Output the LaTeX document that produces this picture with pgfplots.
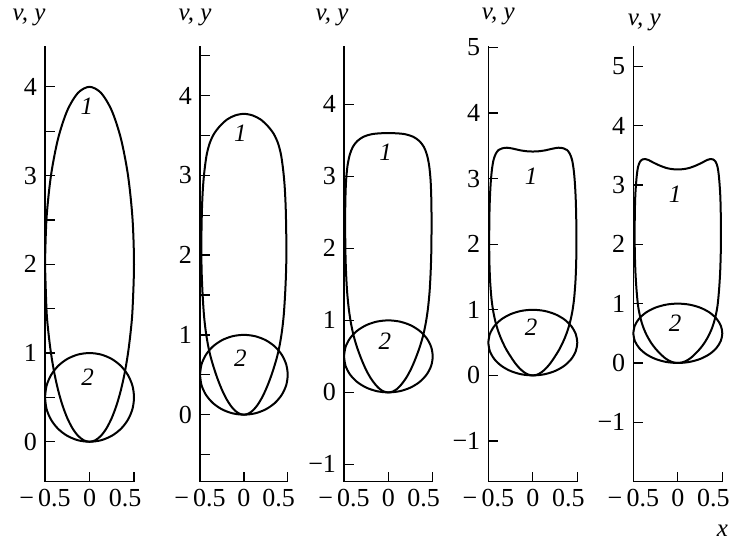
\documentclass[border=0pt]{standalone}
\usepackage{fontspec}
\setmainfont{Liberation Serif}
\usepackage{pgfplots}
\usepackage{pgfplotstable}
\pgfplotsset{compat=1.18}

% curve 2: y(x), the same closed loop in every panel
\pgfplotstableread{
x y
-0.5 0.5
-0.4830 0.3706
-0.4330 0.25
-0.3536 0.1464
-0.25 0.0670
-0.1294 0.0170
0 0
0.1294 0.0170
0.25 0.0670
0.3536 0.1464
0.4330 0.25
0.4830 0.3706
0.5 0.5
0.4830 0.6294
0.4330 0.75
0.3536 0.8536
0.25 0.9330
0.1294 0.9830
0 1
-0.1294 0.9830
-0.25 0.9330
-0.3536 0.8536
-0.4330 0.75
-0.4830 0.6294
-0.5 0.5
}\loopY

% curve 1: v(x), one closed loop per panel
\pgfplotstableread{
x y
-0.5 2.0
-0.4830 1.4824
-0.4619 1.2346
-0.4330 1.0
-0.3967 0.7824
-0.3536 0.5858
-0.3044 0.4132
-0.25 0.2679
-0.1913 0.1522
-0.1294 0.0681
-0.0653 0.0171
0 0
0.0653 0.0171
0.1294 0.0681
0.1913 0.1522
0.25 0.2679
0.3044 0.4132
0.3536 0.5858
0.3967 0.7824
0.4330 1.0
0.4619 1.2346
0.4830 1.4824
0.5 2.0
0.4830 2.5176
0.4330 3.0
0.3536 3.4142
0.25 3.7321
0.1294 3.9319
0 4
-0.1294 3.9319
-0.25 3.7321
-0.3536 3.4142
-0.4330 3.0
-0.4830 2.5176
-0.5 2.0
}\loopA

\pgfplotstableread{
x y
-0.485 2.0
-0.48 1.75
-0.47 1.5
-0.455 1.25
-0.435 1.05
-0.41 0.88
-0.38 0.73
-0.34 0.58
-0.30 0.45
-0.25 0.3125
-0.20 0.2
-0.15 0.1125
-0.10 0.05
-0.05 0.0125
0 0
0.05 0.0125
0.10 0.05
0.15 0.1125
0.20 0.2
0.25 0.3125
0.30 0.45
0.34 0.58
0.38 0.73
0.41 0.88
0.435 1.05
0.455 1.25
0.47 1.5
0.48 1.75
0.485 2.0
0.483 2.3
0.477 2.6
0.466 2.85
0.450 3.05
0.425 3.25
0.39 3.40
0.34 3.52
0.27 3.62
0.19 3.70
0.10 3.75
0 3.77
-0.10 3.75
-0.19 3.70
-0.27 3.62
-0.34 3.52
-0.39 3.40
-0.425 3.25
-0.450 3.05
-0.466 2.85
-0.477 2.6
-0.483 2.3
-0.485 2.0
}\loopB

\pgfplotstableread{
x y
-0.485 2.0
-0.478 1.7
-0.465 1.4
-0.445 1.15
-0.42 0.95
-0.39 0.78
-0.35 0.615
-0.30 0.45
-0.25 0.31
-0.20 0.2
-0.15 0.115
-0.10 0.05
-0.05 0.0125
0 0
0.05 0.0125
0.10 0.05
0.15 0.115
0.20 0.2
0.25 0.31
0.30 0.45
0.35 0.615
0.39 0.78
0.42 0.95
0.445 1.15
0.465 1.4
0.478 1.7
0.485 2.0
0.487 2.4
0.484 2.7
0.476 2.95
0.46 3.15
0.435 3.30
0.40 3.41
0.35 3.49
0.28 3.55
0.19 3.585
0.09 3.598
0 3.6
-0.09 3.598
-0.19 3.585
-0.28 3.55
-0.35 3.49
-0.40 3.41
-0.435 3.30
-0.46 3.15
-0.476 2.95
-0.484 2.7
-0.487 2.4
-0.485 2.0
}\loopC

\pgfplotstableread{
x y
-0.49 2.05
-0.488 1.75
-0.48 1.45
-0.465 1.18
-0.445 0.98
-0.42 0.82
-0.39 0.68
-0.35 0.54
-0.30 0.40
-0.25 0.29
-0.20 0.19
-0.15 0.11
-0.10 0.05
-0.05 0.012
0 0
0.05 0.012
0.10 0.05
0.15 0.11
0.20 0.19
0.25 0.29
0.30 0.40
0.35 0.54
0.39 0.68
0.42 0.82
0.445 0.98
0.465 1.18
0.48 1.45
0.488 1.75
0.49 2.05
0.488 2.4
0.482 2.7
0.472 2.95
0.458 3.15
0.44 3.29
0.415 3.38
0.385 3.435
0.345 3.46
0.29 3.47
0.22 3.455
0.14 3.43
0.06 3.415
0 3.412
-0.06 3.415
-0.14 3.43
-0.22 3.455
-0.29 3.47
-0.345 3.46
-0.385 3.435
-0.415 3.38
-0.44 3.29
-0.458 3.15
-0.472 2.95
-0.482 2.7
-0.488 2.4
-0.49 2.05
}\loopD

\pgfplotstableread{
x y
-0.485 2.1
-0.482 1.8
-0.475 1.5
-0.462 1.2
-0.445 0.95
-0.42 0.76
-0.39 0.61
-0.35 0.47
-0.30 0.34
-0.25 0.24
-0.20 0.16
-0.15 0.09
-0.10 0.04
-0.05 0.01
0 0
0.05 0.01
0.10 0.04
0.15 0.09
0.20 0.16
0.25 0.24
0.30 0.34
0.35 0.47
0.39 0.61
0.42 0.76
0.445 0.95
0.462 1.2
0.475 1.5
0.482 1.8
0.485 2.1
0.483 2.5
0.478 2.8
0.47 3.0
0.46 3.17
0.447 3.3
0.425 3.39
0.395 3.43
0.365 3.435
0.33 3.42
0.28 3.38
0.21 3.33
0.13 3.285
0.06 3.265
0 3.26
-0.06 3.265
-0.13 3.285
-0.21 3.33
-0.28 3.38
-0.33 3.42
-0.365 3.435
-0.395 3.43
-0.425 3.39
-0.447 3.3
-0.46 3.17
-0.47 3.0
-0.478 2.8
-0.483 2.5
-0.485 2.1
}\loopE

\tikzset{lbl/.style={font=\itshape\fontsize{12.5}{15}\selectfont}}

\begin{document}
\begin{tikzpicture}
\pgfplotsset{
  panel/.style={
    scale only axis, width=44.5pt, height=217.85pt, anchor=south west,
    axis x line*=bottom, axis y line*=left,
    axis line style={line width=0.65pt, -},
    tick align=inside,
    xmin=-0.5, xmax=0.5, xtick={-0.5,0,0.5},
    xticklabels={−\,0.5,0,\hspace*{-9pt}0.5},
    major tick length=5pt, minor tick length=5pt,
    tick style={black, line width=0.65pt},
    tick label style={font=\fontsize{13}{15.6}\selectfont},
    yticklabel style={xshift=-0.5pt},
    clip=false,
  },
  curve/.style={black, line width=1pt, smooth},
}
\path[use as bounding box] (0,0) rectangle (365pt,270.5pt);

% panel 1
\begin{axis}[panel, at={(22.5pt,29.65pt)},
  ymin=-0.45, ymax=4.46, ytick={0,1,2,3,4}, yticklabels={0,1,2,3,4},
  minor ytick={0.5,1.5,2.5,3.5}]
  \addplot[curve] table {\loopA};
  \addplot[curve] table {\loopY};
  \node[lbl] at (axis cs:-0.03,3.78) {1};
  \node[lbl] at (axis cs:-0.02,0.73) {2};
  \node[lbl, xshift=-8pt, yshift=14.5pt] at (rel axis cs:0,1) {v, y};
\end{axis}

% panel 2
\begin{axis}[panel, at={(100pt,29.65pt)}, width=43.85pt,
  ymin=-0.84, ymax=4.62, ytick={0,1,2,3,4}, yticklabels={0,1,2,3,4},
  minor ytick={-0.5,0.5,1.5,2.5,3.5,4.5}]
  \addplot[curve] table {\loopB};
  \addplot[curve] table {\loopY};
  \node[lbl] at (axis cs:-0.04,3.53) {1};
  \node[lbl] at (axis cs:-0.04,0.71) {2};
  \node[lbl, xshift=-2.5pt, yshift=14.5pt] at (rel axis cs:0,1) {v, y};
\end{axis}

% panel 3
\begin{axis}[panel, at={(172pt,29.65pt)}, width=44.35pt,
  ymin=-1.24, ymax=4.81, ytick={-1,0,1,2,3,4}, yticklabels={−1,0,1,2,3,4}]
  \addplot[curve] table {\loopC};
  \addplot[curve] table {\loopY};
  \node[lbl] at (axis cs:-0.03,3.33) {1};
  \node[lbl] at (axis cs:-0.04,0.71) {2};
  \node[lbl, xshift=-6pt, yshift=14.5pt] at (rel axis cs:0,1) {v, y};
\end{axis}

% panel 4
\begin{axis}[panel, at={(244.15pt,29.65pt)},
  ymin=-1.62, ymax=5.02, ytick={-1,0,1,2,3,4,5}, yticklabels={−1,0,1,2,3,4,5}]
  \addplot[curve] table {\loopD};
  \addplot[curve] table {\loopY};
  \node[lbl] at (axis cs:-0.02,3.03) {1};
  \node[lbl] at (axis cs:-0.02,0.73) {2};
  \node[lbl, xshift=5pt, yshift=15pt] at (rel axis cs:0,1) {v, y};
\end{axis}

% panel 5
\begin{axis}[panel, at={(316.65pt,29.65pt)},
  ymin=-2.0, ymax=5.34, ytick={-1,0,1,2,3,4,5}, yticklabels={−1,0,1,2,3,4,5}]
  \addplot[curve] table {\loopE};
  \addplot[curve] table {\loopY};
  \node[lbl] at (axis cs:-0.03,2.85) {1};
  \node[lbl] at (axis cs:-0.03,0.67) {2};
  \node[lbl, xshift=5.5pt, yshift=12pt] at (rel axis cs:0,1) {v, y};
  \node[lbl, yshift=-24.5pt] at (rel axis cs:1,0) {x};
\end{axis}
\end{tikzpicture}
\end{document}
